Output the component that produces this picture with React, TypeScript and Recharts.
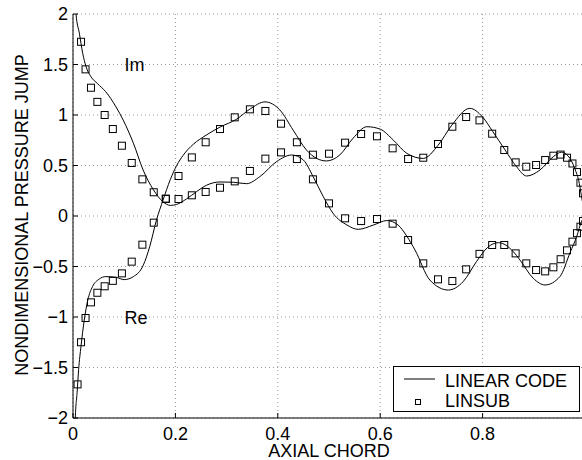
import React from 'react';
import {
  ComposedChart,
  Line,
  Scatter,
  XAxis,
  YAxis,
  CartesianGrid,
  Legend,
  ReferenceDot,
  Label,
} from 'recharts';

const FONT = '"Liberation Sans", Arial, Helvetica, sans-serif';

const xTicks = [0, 0.2, 0.4, 0.6, 0.8];
const yTicks = [-2, -1.5, -1, -0.5, 0, 0.5, 1, 1.5, 2];

// LINEAR CODE, real part
const linearReX = [0.0035, 0.0045, 0.008, 0.011, 0.0156, 0.022, 0.029, 0.038, 0.051, 0.064, 0.084, 0.1, 0.118, 0.137, 0.15, 0.163, 0.176, 0.19, 0.2025, 0.215, 0.235, 0.26, 0.287, 0.32, 0.346, 0.375, 0.404, 0.43, 0.456, 0.476, 0.495, 0.521, 0.547, 0.574, 0.6, 0.626, 0.652, 0.684, 0.713, 0.74, 0.775, 0.8, 0.82, 0.844, 0.866, 0.886, 0.912, 0.938, 0.954, 0.967, 0.98, 0.989, 0.993, 1.0];
const linearReY = [-2.3, -2.0, -1.75, -1.52, -1.29, -1.03, -0.83, -0.7, -0.625, -0.6, -0.607, -0.63, -0.6, -0.49, -0.3, -0.04, 0.16, 0.36, 0.5, 0.6, 0.71, 0.8, 0.88, 0.96, 1.06, 1.13, 1.05, 0.85, 0.653, 0.57, 0.545, 0.604, 0.77, 0.884, 0.86, 0.75, 0.62, 0.57, 0.7, 0.9, 1.066, 0.98, 0.835, 0.653, 0.49, 0.396, 0.455, 0.587, 0.632, 0.595, 0.47, 0.32, 0.2, 0.0];

// LINEAR CODE, imaginary part
const linearImX = [0.004, 0.0059, 0.0124, 0.019, 0.0254, 0.035, 0.048, 0.064, 0.084, 0.098, 0.118, 0.137, 0.157, 0.176, 0.19, 0.2025, 0.222, 0.241, 0.261, 0.287, 0.313, 0.339, 0.365, 0.398, 0.427, 0.45, 0.469, 0.489, 0.508, 0.535, 0.557, 0.587, 0.613, 0.635, 0.652, 0.668, 0.697, 0.733, 0.762, 0.788, 0.81, 0.831, 0.86, 0.873, 0.899, 0.922, 0.951, 0.971, 0.984, 0.993, 1.0];
const linearImY = [2.3, 2.0, 1.81, 1.61, 1.48, 1.38, 1.31, 1.23, 1.08, 0.95, 0.72, 0.455, 0.26, 0.14, 0.105, 0.115, 0.17, 0.24, 0.305, 0.337, 0.334, 0.32, 0.39, 0.54, 0.604, 0.554, 0.39, 0.19, 0.026, -0.089, -0.132, -0.089, -0.045, -0.09, -0.2, -0.337, -0.634, -0.733, -0.65, -0.452, -0.31, -0.264, -0.353, -0.436, -0.617, -0.683, -0.6, -0.36, -0.2, -0.056, 0.0];

// LINSUB points
const linsubX = [0.0089, 0.0157, 0.0245, 0.0351, 0.0476, 0.0618, 0.0778, 0.0955, 0.1147, 0.1355, 0.1577, 0.1813, 0.2061, 0.2321, 0.2591, 0.2871, 0.3159, 0.3455, 0.3757, 0.4063, 0.4373, 0.4686, 0.5, 0.5314, 0.5627, 0.5937, 0.6243, 0.6545, 0.6841, 0.7129, 0.7409, 0.7679, 0.7939, 0.8187, 0.8423, 0.8645, 0.8853, 0.9045, 0.9222, 0.9382, 0.9524, 0.9649, 0.9755, 0.9843, 0.9911, 0.9961];
const linsubRe = [-1.667, -1.25, -1.01, -0.855, -0.76, -0.696, -0.642, -0.568, -0.452, -0.284, -0.066, 0.17, 0.396, 0.58, 0.73, 0.861, 0.977, 1.056, 1.04, 0.914, 0.73, 0.607, 0.617, 0.726, 0.812, 0.789, 0.67, 0.564, 0.577, 0.713, 0.884, 0.98, 0.947, 0.815, 0.653, 0.531, 0.488, 0.505, 0.554, 0.597, 0.608, 0.577, 0.52, 0.435, 0.33, 0.225];
const linsubIm = [null, 1.725, 1.452, 1.27, 1.13, 1.0, 0.861, 0.696, 0.525, 0.363, 0.235, 0.171, 0.168, 0.205, 0.238, 0.28, 0.343, 0.446, 0.568, 0.63, 0.564, 0.363, 0.125, -0.023, -0.05, -0.03, -0.076, -0.238, -0.469, -0.627, -0.644, -0.528, -0.375, -0.287, -0.287, -0.37, -0.469, -0.535, -0.548, -0.508, -0.428, -0.34, -0.254, -0.17, -0.106, -0.05];

const legendLabels = ['LINEAR CODE', 'LINSUB'];
const partLabels = [
  { text: 'Im', x: 0.12, y: 1.495 },
  { text: 'Re', x: 0.123, y: -1.01 },
];

const toPts = (xs: number[], ys: (number | null)[]) =>
  xs
    .map((x, i) => ({ x, y: ys[i] }))
    .filter((p) => p.y !== null && p.y !== undefined) as { x: number; y: number }[];

const reLine = toPts(linearReX, linearReY);
const imLine = toPts(linearImX, linearImY);
const reSub = toPts(linsubX, linsubRe);
const imSub = toPts(linsubX, linsubIm);

const fmtY = (v: number) => (v < 0 ? '\u2212' + String(Math.abs(v)) : String(v));
const fmtX = (v: number) => String(v);

const SquareShape = (props: any) => {
  const { cx, cy } = props;
  if (cx == null || cy == null) return null;
  return <rect x={cx - 3.5} y={cy - 3.5} width={7} height={7} fill="none" stroke="#000" strokeWidth={1} />;
};

const LegendBox = () => (
  <div
    style={{
      width: 185,
      height: 44,
      border: '1px solid #000',
      background: '#fff',
      position: 'relative',
    }}
  >
    <svg width={185} height={44} style={{ position: 'absolute', left: 0, top: 0 }}>
      <line x1={10} x2={41} y1={12} y2={12} stroke="#000" strokeWidth={1} />
      <rect x={21.5} y={32.5} width={5} height={5} fill="none" stroke="#000" strokeWidth={1} />
      <text x={51} y={19.7} fontFamily={FONT} fontSize={18} fill="#000">
        {legendLabels[0]}
      </text>
      <text x={51} y={39.7} fontFamily={FONT} fontSize={18} fill="#000">
        {legendLabels[1]}
      </text>
    </svg>
  </div>
);

export default function App() {
  const tickStyle = { fontFamily: FONT, fontSize: 18, fill: '#000' };
  return (
    <div
      style={{
        position: 'fixed',
        left: 0,
        top: 0,
        width: 582,
        height: 460,
        overflow: 'hidden',
        background: '#fff',
      }}
    >
      <ComposedChart
        width={600}
        height={460}
        margin={{ top: 14, right: 15, left: 0, bottom: 0 }}
        style={{ fontFamily: FONT }}
      >
        <CartesianGrid stroke="#999" strokeDasharray="1 3" />
        <XAxis
          type="number"
          dataKey="x"
          domain={[0, 1]}
          ticks={xTicks}
          tickFormatter={fmtX}
          height={42}
          axisLine={{ stroke: '#000' }}
          tickLine={{ stroke: '#000' }}
          tickSize={-5}
          tickMargin={14}
          tick={tickStyle}
          interval={0}
        >
          <Label
            content={() => (
              <text x={329} y={457} textAnchor="middle" fontFamily={FONT} fontSize={18} fill="#000">
                AXIAL CHORD
              </text>
            )}
          />
        </XAxis>
        <YAxis
          type="number"
          dataKey="y"
          domain={[-2, 2]}
          allowDataOverflow
          ticks={yTicks}
          tickFormatter={fmtY}
          width={73}
          axisLine={{ stroke: '#000' }}
          tickLine={{ stroke: '#000' }}
          tickSize={-5}
          tickMargin={10}
          tick={tickStyle}
          interval={0}
        >
          <Label
            content={() => (
              <text
                transform="translate(28,215) rotate(-90)"
                textAnchor="middle"
                fontFamily={FONT}
                fontSize={18}
                fill="#000"
              >
                NONDIMENSIONAL PRESSURE JUMP
              </text>
            )}
          />
        </YAxis>
        <Line
          data={reLine}
          dataKey="y"
          type="monotone"
          stroke="#000"
          strokeWidth={1}
          dot={false}
          activeDot={false}
          isAnimationActive={false}
          name={legendLabels[0]}
        />
        <Line
          data={imLine}
          dataKey="y"
          type="monotone"
          stroke="#000"
          strokeWidth={1}
          dot={false}
          activeDot={false}
          isAnimationActive={false}
          legendType="none"
        />
        <Scatter data={reSub} dataKey="y" shape={SquareShape} isAnimationActive={false} name={legendLabels[1]} />
        <Scatter data={imSub} dataKey="y" shape={SquareShape} isAnimationActive={false} legendType="none" />
        {partLabels.map((p) => (
          <ReferenceDot
            key={p.text}
            x={p.x}
            y={p.y}
            r={0}
            fill="none"
            stroke="none"
            label={{ value: p.text, position: 'center', fontFamily: FONT, fontSize: 18, fill: '#000' }}
          />
        ))}
        <Legend
          layout="horizontal"
          align="center"
          verticalAlign="middle"
          content={() => <LegendBox />}
          wrapperStyle={{ left: 393, top: 366, width: 187, height: 46, right: 'auto', bottom: 'auto' }}
        />
      </ComposedChart>
    </div>
  );
}
